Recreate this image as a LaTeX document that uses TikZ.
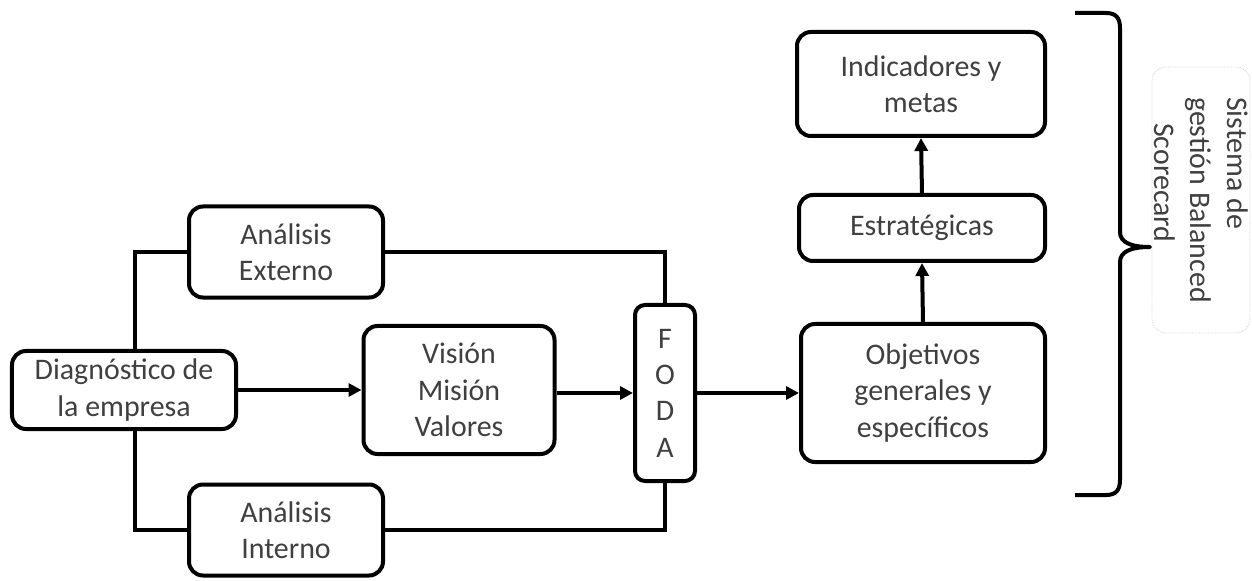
\documentclass[tikz,border=0pt]{standalone}
\usepackage{fontspec}
\setmainfont{Carlito}
\usetikzlibrary{arrows.meta}
\definecolor{txt}{HTML}{404040}
\begin{document}
\begin{tikzpicture}[x=1bp,y=-1bp,
  box/.style={draw=black, line width=4bp, rounded corners=14bp, fill=white,
    text=txt, align=center, inner sep=0pt,
    font=\fontsize{30}{36.5}\selectfont},
  link/.style={line width=4bp},
  arr/.style={line width=4bp, -{Triangle[length=13bp,width=13bp]}},
  note/.style={draw=gray!35, line width=0.8bp, densely dotted, rounded corners=14bp,
    text=txt, align=left, inner sep=0pt,
    font=\fontsize{30}{36.5}\selectfont}]
\useasboundingbox (0,0) rectangle (1252,581);

% process boxes
\node[box, minimum width=224bp, minimum height=78bp] (diag) at (124,390) {Diagnóstico de\\la empresa};
\node[box, minimum width=194bp, minimum height=91bp] (ext) at (286,252) {Análisis\\Externo};
\node[box, minimum width=194bp, minimum height=91bp] (int) at (286,530) {Análisis\\Interno};
\node[box, minimum width=191bp, minimum height=128bp] (vis) at (459,390) {Visión\\Misión\\Valores};
\node[box, minimum width=60bp, minimum height=176bp, rounded corners=10bp] (foda) at (665,393) {F\\O\\D\\A};
\node[box, minimum width=244bp, minimum height=138bp] (obj) at (923,393) {Objetivos\\generales y\\específicos};
\node[box, minimum width=246bp, minimum height=66bp] (est) at (922,228) {Estratégicas};
\node[box, minimum width=248bp, minimum height=104bp] (ind) at (921,84) {Indicadores y\\metas};

% connectors
\draw[link] (ext.west) -| ([xshift=11bp]diag.north);
\draw[link] (int.west) -| ([xshift=11bp]diag.south);
\draw[link] (ext.east) -| (foda.north);
\draw[link] (int.east) -| (foda.south);
\draw[arr] (diag.east) -- (vis.west);
\draw[arr] (vis.east |- foda.west) -- (foda.west);
\draw[arr] (foda.east) -- (obj.west);
\draw[arr] (obj.north) -- (est.south);
\draw[arr] (est.north) -- (ind.south);

% right brace
\draw[line width=4bp, line join=round]
  (1075,13) -- (1106,13) .. controls (1116,13) and (1120,18) .. (1120,28)
  -- (1120,232) .. controls (1120,242) and (1130,247) .. (1150,247)
  .. controls (1130,247) and (1120,252) .. (1120,262)
  -- (1120,480) .. controls (1120,490) and (1116,495) .. (1106,495)
  -- (1075,495);

% side label
\node[note, rotate=-90, minimum width=266bp, minimum height=98bp] (bsc) at (1201,200)
  {Sistema de\\gestión Balanced\\\hspace*{26bp}Scorecard};
\end{tikzpicture}
\end{document}
